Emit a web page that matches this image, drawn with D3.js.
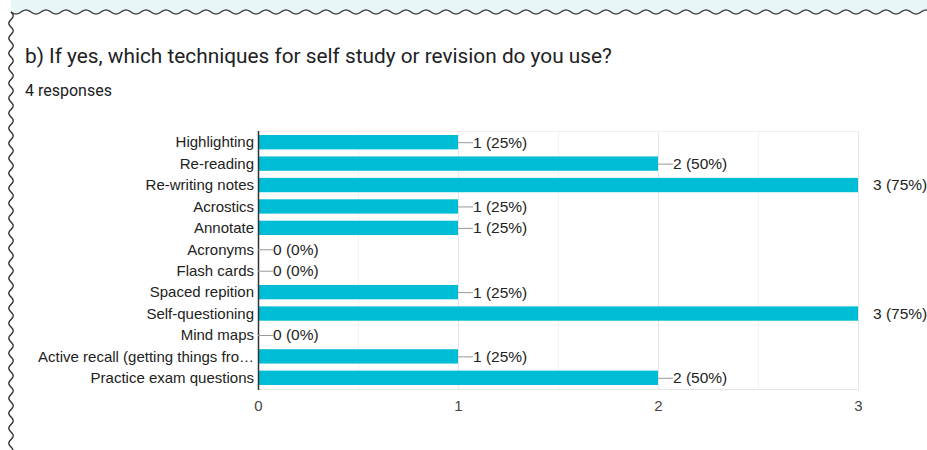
<!DOCTYPE html>
<html><head><meta charset="utf-8">
<script src="https://cdn.jsdelivr.net/npm/d3@7/dist/d3.min.js"></script>
<style>body{margin:0;background:#fff}svg{display:block}</style>
</head><body>
<svg id="c" width="927" height="450"></svg>
<script>
const categories = ["Highlighting","Re-reading","Re-writing notes","Acrostics","Annotate","Acronyms","Flash cards","Spaced repition","Self-questioning","Mind maps","Active recall (getting things fro…","Practice exam questions"];
const counts = [1,2,3,1,1,0,0,1,3,0,1,2];
const percents = [25,50,75,25,25,0,0,25,75,0,25,50];
const tickValues = [0,1,2,3];
const title = "b) If yes, which techniques for self study or revision do you use?";
const subtitle = "4 responses";

const svg = d3.select("#c");
const W = 927, H = 450;

// wavy border
const topY = 12, leftX = 11;
function wavyH(x0, x1, y, amp, per){ let p=[]; for(let x=x0;x<=x1;x+=1){p.push([x, y+amp*Math.sin((x-x0)/per*2*Math.PI)]);} return p; }
function wavyV(y0, y1, x, amp, per){ let p=[]; for(let y=y0;y<=y1;y+=1){p.push([x+amp*Math.sin((y-y0)/per*2*Math.PI), y]);} return p; }
const line = d3.line();
const tp = wavyH(leftX, W, topY, 2, 20);
svg.append("path").attr("d", line([[leftX,0],...tp,[W,0]])+"Z").attr("fill","#e8f6f8");
svg.append("path").attr("d", line(tp)).attr("fill","none").attr("stroke","#444").attr("stroke-width",1.4);
svg.append("path").attr("d", line(wavyV(topY, H, leftX, 2.2, 15))).attr("fill","none").attr("stroke","#333").attr("stroke-width",1.4);

svg.append("text").attr("x",25).attr("y",63).text(title)
  .attr("font-family","Roboto, 'Liberation Sans', Arial, sans-serif").attr("font-size",20.8).attr("fill","#202124");
svg.append("text").attr("x",25).attr("y",96).text(subtitle)
  .attr("font-family","Roboto, 'Liberation Sans', Arial, sans-serif").attr("font-size",16).attr("fill","#202124");

const x = d3.scaleLinear().domain([0,3]).range([258,858]);
const y = d3.scaleBand().domain(categories).range([131.5,388.5]).paddingInner(0.33).paddingOuter(0.165);
const font = "'Liberation Sans', Arial, sans-serif";

// gridlines
const g = svg.append("g");
g.selectAll("line.minor").data(d3.range(0.5,3,1)).join("line")
  .attr("x1",d=>x(d)+0.5).attr("x2",d=>x(d)+0.5).attr("y1",131).attr("y2",389).attr("stroke","#f3f3f3");
g.selectAll("line.major").data(tickValues.slice(1)).join("line")
  .attr("x1",d=>x(d)+0.5).attr("x2",d=>x(d)+0.5).attr("y1",131).attr("y2",389).attr("stroke","#e6e6e6");
g.append("line").attr("x1",258).attr("x2",859).attr("y1",131.5).attr("y2",131.5).attr("stroke","#eeeeee");
g.append("line").attr("x1",258).attr("x2",859).attr("y1",389.5).attr("y2",389.5).attr("stroke","#e6e6e6");

// bars
svg.selectAll("rect.bar").data(counts).join("rect")
  .attr("x",x(0)).attr("y",(d,i)=>y(categories[i]))
  .attr("width",d=>x(d)-x(0)).attr("height",y.bandwidth()).attr("fill","#00bcd4");

// axis line
svg.append("line").attr("x1",258.5).attr("x2",258.5).attr("y1",131).attr("y2",390).attr("stroke","#333").attr("stroke-width",1.5);

// category labels
svg.selectAll("text.cat").data(categories).join("text")
  .attr("x",254).attr("y",d=>y(d)+y.bandwidth()/2).attr("dy","0.35em")
  .attr("text-anchor","end").attr("font-family",font).attr("font-size",15).attr("fill","#222").text(d=>d);

// value labels with leaders
counts.forEach((c,i)=>{
  const cy = y(categories[i])+y.bandwidth()/2;
  const lbl = `${c} (${percents[i]}%)`;
  if (c < 3) {
    svg.append("line").attr("x1",x(c)).attr("x2",x(c)+15).attr("y1",cy+0.5).attr("y2",cy+0.5).attr("stroke","#999").attr("stroke-width",1);
  }
  svg.append("text").attr("x",x(c)+15).attr("y",cy).attr("dy","0.35em").attr("font-family",font).attr("font-size",15.5).attr("fill","#222").text(lbl);
});

// x axis
const ax = svg.append("g").attr("transform","translate(0,389)").call(d3.axisBottom(x).tickValues(tickValues).tickFormat(d3.format("d")).tickSize(0).tickPadding(11));
ax.select(".domain").remove();
ax.selectAll("text").attr("font-family",font).attr("font-size",15).attr("fill","#444");
</script>
</body></html>
